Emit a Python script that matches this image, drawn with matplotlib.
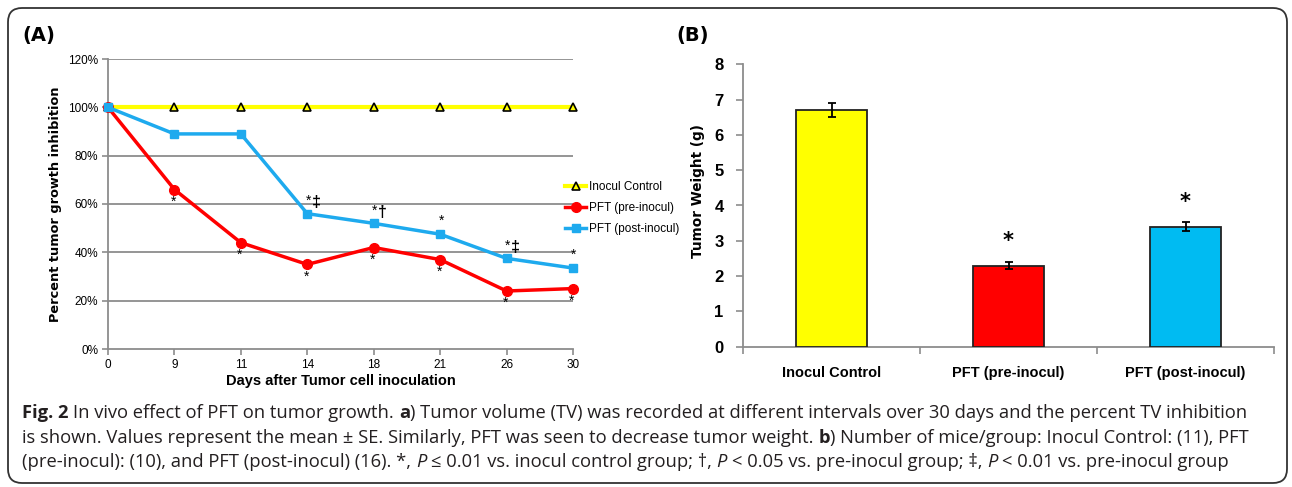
import numpy as np
import matplotlib.pyplot as plt
from matplotlib.patches import FancyBboxPatch
from matplotlib.ticker import FixedLocator

# panel A data: percent tumour growth inhibition
days = ['0', '9', '11', '14', '18', '21', '26', '30']
control = [100, 100, 100, 100, 100, 100, 100, 100]
pre_inocul = [100, 66, 44, 35, 42, 37, 24, 25]
post_inocul = [100, 89, 89, 56, 52, 47.5, 37.5, 33.5]
pre_marks = ['', '*', '*', '*', '*', '*', '*', '*']
post_marks = ['', '', '', '*‡', '*†', '*', '*‡', '*']
series_names = ['Inocul Control', 'PFT (pre-inocul)', 'PFT (post-inocul)']

# panel B data: tumour weight
groups = ['Inocul Control', 'PFT (pre-inocul)', 'PFT (post-inocul)']
weight = [6.7, 2.3, 3.4]
weight_se = [0.2, 0.1, 0.12]
weight_marks = ['', '*', '*']

YELLOW = '#FFFF00'
RED = '#FF0000'
BLUE_LINE = '#1EAAEE'
BLUE_BAR = '#00BBF2'
GRID = '#8C8C8C'

NARROW = ['Liberation Sans Narrow', 'Liberation Sans', 'DejaVu Sans']
CAPTION = ['Open Sans', 'DejaVu Sans']

W, H = 1292, 487
fig = plt.figure(figsize=(W / 100, H / 100), dpi=100)

# background layer in pixel coords: frame + caption
bg = fig.add_axes([0, 0, 1, 1])
bg.set_xlim(0, W)
bg.set_ylim(H, 0)
bg.axis('off')
frame = FancyBboxPatch((8, 8), 1279, 475, boxstyle='round,pad=0,rounding_size=14',
                       fc='white', ec='#333333', lw=1.3)
bg.add_patch(frame)
bg.text(22, 36, '(A)', fontsize=14, fontweight='bold', va='center', family=['DejaVu Sans'])
bg.text(676, 36, '(B)', fontsize=14, fontweight='bold', va='center', family=['DejaVu Sans'])

# ---------------- panel A ----------------
ax = fig.add_axes([108 / W, 1 - 349 / H, 465 / W, 290 / H])
ax.set_facecolor('none')
x = np.arange(len(days))
for yv in [20, 40, 60, 80, 100, 120]:
    ax.axhline(yv, color=GRID, lw=1.3, zorder=1)
ax.plot(x, control, color=YELLOW, lw=3, marker='^', ms=6, mfc=YELLOW, mec='black',
        mew=1.2, zorder=3, clip_on=False, label=series_names[0])
ax.plot(x, pre_inocul, color=RED, lw=2.5, marker='o', ms=7, zorder=4, clip_on=False,
        label=series_names[1])
ax.plot(x, post_inocul, color=BLUE_LINE, lw=2.5, marker='s', ms=6, zorder=5, clip_on=False,
        label=series_names[2])

for i, m in enumerate(pre_marks):
    if m:
        ax.annotate(m, (x[i], pre_inocul[i]), xytext=(-1, -12), textcoords='offset pixels',
                    ha='center', va='center', fontsize=10, family=NARROW)
for i, m in enumerate(post_marks):
    if not m:
        continue
    ax.annotate(m[0], (x[i], post_inocul[i]), xytext=(1, 13), textcoords='offset pixels',
                ha='center', va='center', fontsize=10, family=NARROW)
    if len(m) > 1:
        ax.annotate(m[1:], (x[i], post_inocul[i]), xytext=(9, 11), textcoords='offset pixels',
                    ha='center', va='center', fontsize=11.5, fontweight='bold', family=NARROW)

ax.set_xlim(0, len(days) - 1)
ax.set_ylim(0, 120)
ax.set_xticks(x)
ax.set_xticklabels(days)
ax.set_yticks([0, 20, 40, 60, 80, 100, 120])
ax.set_yticklabels([f'{v}%' for v in [0, 20, 40, 60, 80, 100, 120]])
for s in ['top', 'right']:
    ax.spines[s].set_visible(False)
for s in ['left', 'bottom']:
    ax.spines[s].set_color(GRID)
    ax.spines[s].set_linewidth(1.3)
ax.tick_params(length=4, color=GRID, width=1.2, labelsize=8.5, pad=3)
for lab in ax.get_xticklabels() + ax.get_yticklabels():
    lab.set_family(NARROW)
ax.set_ylabel('Percent tumor growth inhibition', fontsize=9.3, fontweight='bold',
              family=['DejaVu Sans'], labelpad=4)
ax.set_xlabel('Days after Tumor cell inoculation', fontsize=10.5, fontweight='bold',
              family=NARROW, labelpad=2)

fig.legend(loc='upper left', bbox_to_anchor=(565 / W, 1 - 181 / H), frameon=False,
           prop={'family': NARROW, 'size': 8.5}, handlelength=1.8,
           handletextpad=0.2, borderpad=0, borderaxespad=0, labelspacing=0.75)

# ---------------- panel B ----------------
bx = fig.add_axes([743 / W, 1 - 346.7 / H, 531 / W, 282.4 / H])
bx.set_facecolor('none')
xb = np.arange(len(groups))
bx.bar(xb, weight, width=0.4, color=[YELLOW, RED, BLUE_BAR], edgecolor='#222222', lw=1.3,
       yerr=weight_se, capsize=3, error_kw=dict(elinewidth=1.3, capthick=1.3, ecolor='black'),
       zorder=3)
for i, m in enumerate(weight_marks):
    if m:
        bx.text(xb[i], weight[i] + weight_se[i] + 0.3, m, ha='center', va='bottom',
                fontsize=15, fontweight='bold', family=['DejaVu Sans'])
bx.set_xlim(-0.5, len(groups) - 0.5)
bx.set_ylim(0, 8)
bx.set_yticks(range(9))
bx.set_xticks(xb)
bx.set_xticklabels(groups)
bx.xaxis.set_minor_locator(FixedLocator(np.arange(len(groups) + 1) - 0.5))
bx.tick_params(axis='x', which='major', length=0, pad=14)
bx.tick_params(axis='x', which='minor', length=5, color=GRID, width=1.2)
bx.tick_params(axis='y', length=5, color=GRID, width=1.2, labelsize=12, pad=9)
for s in ['top', 'right']:
    bx.spines[s].set_visible(False)
for s in ['left', 'bottom']:
    bx.spines[s].set_color(GRID)
    bx.spines[s].set_linewidth(1.3)
for lab in bx.get_yticklabels():
    lab.set_fontweight('bold')
    lab.set_family(['Liberation Sans', 'DejaVu Sans'])
for lab in bx.get_xticklabels():
    lab.set_fontweight('bold')
    lab.set_family(NARROW)
    lab.set_fontsize(10.5)
bx.set_ylabel('Tumor Weight (g)', fontsize=9.8, fontweight='bold', family=['DejaVu Sans'])
bx.yaxis.set_label_coords(-0.072, 0.55)

# ---------------- caption ----------------
renderer = fig.canvas.get_renderer()
CAP_SIZE = 13.2


def text_width(s, **kw):
    t = bg.text(0, 0, s, fontsize=CAP_SIZE, family=CAPTION, **kw)
    w = t.get_window_extent(renderer=renderer).width
    t.remove()
    return w


space_w = text_width('a a') - text_width('aa')


def draw_runs(x0, y0, runs):
    xx = x0
    for s, kw in runs:
        if s.startswith(' '):
            xx += space_w
        core = s.strip()
        if core:
            t = bg.text(xx, y0, core, fontsize=CAP_SIZE, family=CAPTION, va='center', ha='left',
                        color='#231F20', **kw)
            xx += t.get_window_extent(renderer=renderer).width
        if s.endswith(' ') and len(s) > 1:
            xx += space_w


B = {'fontweight': 'bold'}
I = {'fontstyle': 'italic'}
N = {}
draw_runs(22, 413, [('Fig. 2', B),
                    (' In vivo effect of PFT on tumor growth. ', N), ('a', B),
                    (') Tumor volume (TV) was recorded at different intervals over 30 days and the percent TV inhibition', N)])
draw_runs(22, 438, [('is shown. Values represent the mean ± SE. Similarly, PFT was seen to decrease tumor weight. ', N),
                    ('b', B),
                    (') Number of mice/group: Inocul Control: (11), PFT', N)])
draw_runs(22, 462, [('(pre-inocul): (10), and PFT (post-inocul) (16). *, ', N), ('P', I),
                    (' ≤ 0.01 vs. inocul control group; †, ', N), ('P', I),
                    (' < 0.05 vs. pre-inocul group; ‡, ', N), ('P', I),
                    (' < 0.01 vs. pre-inocul group', N)])

fig.savefig('out.png', dpi=100)
